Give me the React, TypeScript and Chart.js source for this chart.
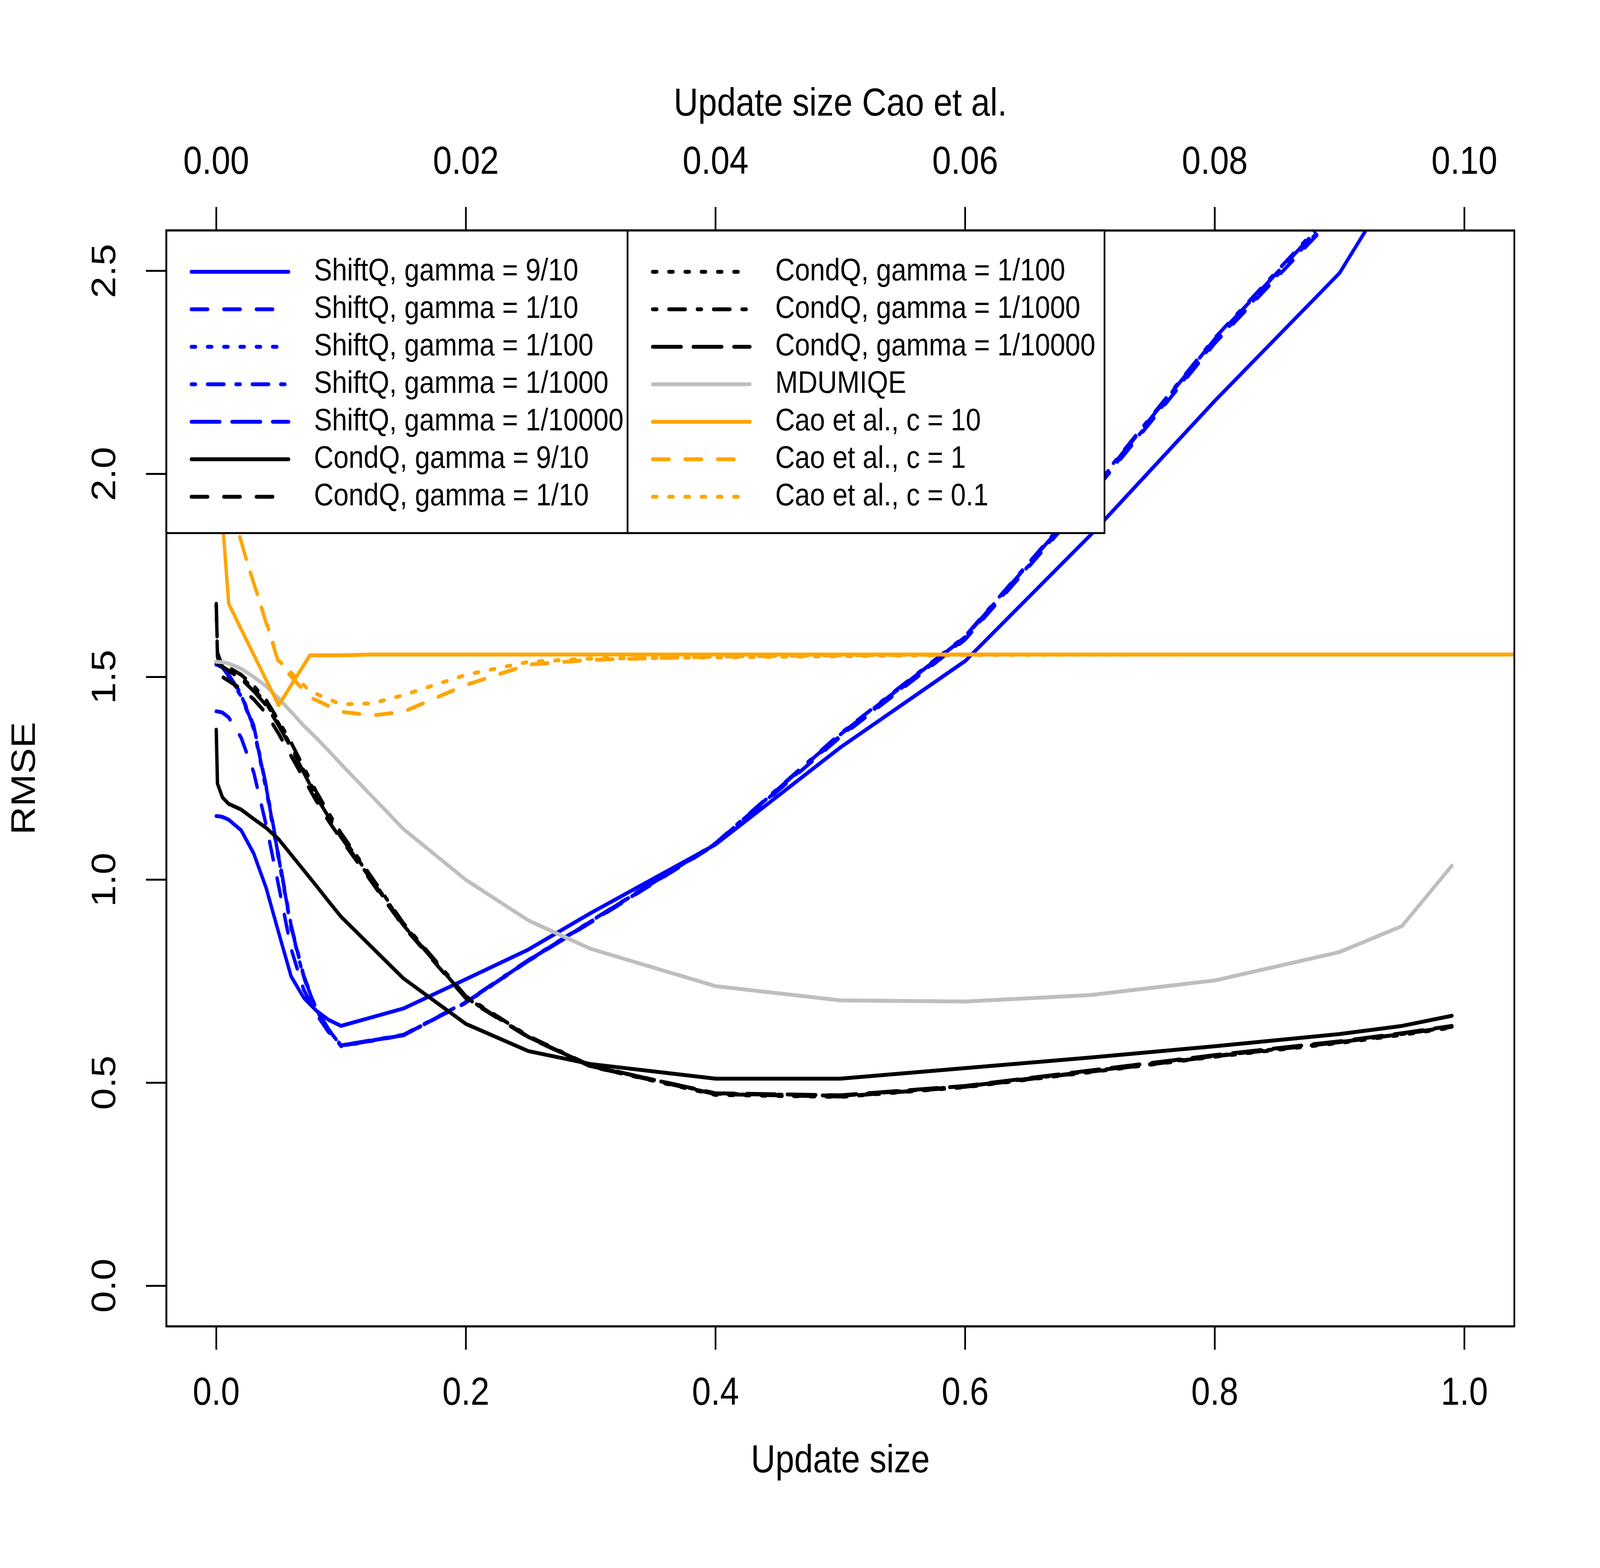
import { useEffect, useRef } from 'react';
import { Chart, registerables } from 'chart.js';

Chart.register(...registerables);

const FONT = '"Liberation Sans", Arial, Helvetica, sans-serif';

// update sizes used for ShiftQ / CondQ / MDUMIQE (bottom axis)
const UPDATE_SIZE = [0, 0.001, 0.005, 0.01, 0.02, 0.03, 0.04, 0.05, 0.06, 0.07, 0.08, 0.09, 0.1, 0.15, 0.2, 0.25, 0.3, 0.4, 0.5, 0.6, 0.7, 0.8, 0.9, 0.95, 0.99];
// update sizes used for Cao et al. (top axis)
const CAO_UPDATE_SIZE = [0, 0.001, 0.0025, 0.005, 0.0075, 0.01, 0.0125, 0.015, 0.02, 0.025, 0.03, 0.04, 0.05, 0.06, 0.08, 0.1, 0.12];

const SHIFTQ_9_10 = [1.157, 1.157, 1.155, 1.148, 1.122, 1.065, 0.98, 0.87, 0.762, 0.71, 0.678, 0.655, 0.64, 0.683, 0.755, 0.828, 0.918, 1.087, 1.326, 1.539, 1.848, 2.18, 2.495, 2.745, 2.95];
const SHIFTQ_1_10 = [1.415, 1.415, 1.412, 1.4, 1.35, 1.265, 1.135, 0.985, 0.83, 0.73, 0.67, 0.625, 0.592, 0.617, 0.698, 0.8, 0.895, 1.087, 1.352, 1.592, 1.944, 2.322, 2.648, 2.815, 2.955];
const SHIFTQ_1_100 = [1.53, 1.53, 1.522, 1.5, 1.452, 1.372, 1.222, 1.05, 0.88, 0.76, 0.68, 0.63, 0.59, 0.617, 0.697, 0.8, 0.896, 1.088, 1.355, 1.595, 1.947, 2.326, 2.653, 2.82, 2.96];
const SHIFTQ_1_1000 = [1.53, 1.53, 1.524, 1.505, 1.458, 1.38, 1.232, 1.06, 0.888, 0.765, 0.683, 0.632, 0.592, 0.618, 0.699, 0.802, 0.898, 1.09, 1.36, 1.6, 1.955, 2.335, 2.665, 2.83, 2.97];
const SHIFTQ_1_10000 = [1.53, 1.53, 1.523, 1.502, 1.455, 1.376, 1.228, 1.055, 0.884, 0.762, 0.681, 0.631, 0.591, 0.617, 0.698, 0.801, 0.897, 1.089, 1.358, 1.598, 1.952, 2.332, 2.66, 2.825, 2.965];

const CONDQ_9_10 = [1.37, 1.237, 1.203, 1.187, 1.173, 1.15, 1.128, 1.1, 1.062, 1.024, 0.986, 0.947, 0.909, 0.757, 0.645, 0.578, 0.546, 0.51, 0.51, 0.536, 0.562, 0.59, 0.62, 0.64, 0.665];
const CONDQ_1_10 = [1.68, 1.55, 1.5, 1.49, 1.47, 1.445, 1.41, 1.36, 1.305, 1.25, 1.195, 1.145, 1.1, 0.885, 0.708, 0.612, 0.54, 0.472, 0.466, 0.49, 0.527, 0.565, 0.6, 0.62, 0.638];
const CONDQ_1_100 = [1.535, 1.533, 1.528, 1.52, 1.5, 1.47, 1.435, 1.385, 1.33, 1.27, 1.21, 1.16, 1.11, 0.89, 0.71, 0.613, 0.54, 0.47, 0.465, 0.489, 0.526, 0.564, 0.598, 0.618, 0.636];
const CONDQ_1_1000 = [1.535, 1.534, 1.53, 1.523, 1.505, 1.478, 1.443, 1.392, 1.338, 1.278, 1.218, 1.165, 1.115, 0.893, 0.713, 0.615, 0.542, 0.473, 0.468, 0.491, 0.528, 0.566, 0.6, 0.62, 0.638];
const CONDQ_1_10000 = [1.68, 1.56, 1.525, 1.515, 1.495, 1.465, 1.43, 1.38, 1.325, 1.265, 1.205, 1.155, 1.105, 0.888, 0.71, 0.613, 0.541, 0.474, 0.469, 0.492, 0.53, 0.568, 0.602, 0.622, 0.64];

const MDUMIQE = [1.537, 1.537, 1.536, 1.533, 1.52, 1.5, 1.477, 1.447, 1.414, 1.38, 1.35, 1.318, 1.285, 1.125, 1.0, 0.9, 0.83, 0.738, 0.703, 0.7, 0.716, 0.752, 0.822, 0.886, 1.035];

const CAO_C10 = [2.09, 1.68, 1.586, 1.43, 1.553, 1.553, 1.555, 1.555, 1.555, 1.555, 1.555, 1.555, 1.555, 1.555, 1.555, 1.555, 1.555];
const CAO_C1 = [2.3, 1.94, 1.78, 1.535, 1.45, 1.414, 1.405, 1.414, 1.48, 1.53, 1.542, 1.55, 1.553, 1.555, 1.555, 1.555, 1.555];
const CAO_C01 = [2.3, 1.94, 1.78, 1.54, 1.465, 1.432, 1.435, 1.455, 1.505, 1.537, 1.545, 1.548, 1.551, 1.554, 1.555, 1.555, 1.555];

const X_TICKS = [0, 0.2, 0.4, 0.6, 0.8, 1.0];
const X_TOP_TICKS = [0, 0.02, 0.04, 0.06, 0.08, 0.1];
const Y_TICKS = [0, 0.5, 1, 1.5, 2, 2.5];

const BLUE = '#0000FF';
const BLACK = '#000000';
const GRAY = '#BEBEBE';
const ORANGE = '#FFA500';

// R line types at lwd = 2
const DASH: Record<string, number[]> = {
  solid: [],
  dashed: [48, 48],
  dotted: [12, 36],
  dotdash: [12, 36, 48, 36],
  longdash: [84, 36],
};

const SERIES = [
  { label: 'ShiftQ, gamma = 9/10', color: BLUE, lty: 'solid', values: SHIFTQ_9_10, cao: false },
  { label: 'ShiftQ, gamma = 1/10', color: BLUE, lty: 'dashed', values: SHIFTQ_1_10, cao: false },
  { label: 'ShiftQ, gamma = 1/100', color: BLUE, lty: 'dotted', values: SHIFTQ_1_100, cao: false },
  { label: 'ShiftQ, gamma = 1/1000', color: BLUE, lty: 'dotdash', values: SHIFTQ_1_1000, cao: false },
  { label: 'ShiftQ, gamma = 1/10000', color: BLUE, lty: 'longdash', values: SHIFTQ_1_10000, cao: false },
  { label: 'CondQ, gamma = 9/10', color: BLACK, lty: 'solid', values: CONDQ_9_10, cao: false },
  { label: 'CondQ, gamma = 1/10', color: BLACK, lty: 'dashed', values: CONDQ_1_10, cao: false },
  { label: 'CondQ, gamma = 1/100', color: BLACK, lty: 'dotted', values: CONDQ_1_100, cao: false },
  { label: 'CondQ, gamma = 1/1000', color: BLACK, lty: 'dotdash', values: CONDQ_1_1000, cao: false },
  { label: 'CondQ, gamma = 1/10000', color: BLACK, lty: 'longdash', values: CONDQ_1_10000, cao: false },
  { label: 'MDUMIQE', color: GRAY, lty: 'solid', values: MDUMIQE, cao: false },
  { label: 'Cao et al., c = 10', color: ORANGE, lty: 'solid', values: CAO_C10, cao: true },
  { label: 'Cao et al., c = 1', color: ORANGE, lty: 'dashed', values: CAO_C1, cao: true },
  { label: 'Cao et al., c = 0.1', color: ORANGE, lty: 'dotted', values: CAO_C01, cao: true },
];

const W = 4724;
const H = 4015;

// R style legend (two boxed columns, opaque), plot box and rotated y labels
const boxPlugin = {
  id: 'rBox',
  afterDatasetsDraw(chart: any) {
    const { ctx, chartArea } = chart;
    const { left, top, right, bottom } = chartArea;
    const datasets = chart.data.datasets;
    const columns = [
      { x: left, w: 1362, items: datasets.slice(0, 7) },
      { x: left + 1362, w: 1408, items: datasets.slice(7) },
    ];
    const boxH = 775;
    ctx.save();
    columns.forEach((col) => {
      ctx.setLineDash([]);
      ctx.fillStyle = '#ffffff';
      ctx.fillRect(col.x, top, col.w, boxH);
      ctx.lineWidth = 5;
      ctx.strokeStyle = '#000000';
      ctx.strokeRect(col.x, top, col.w, boxH);
      col.items.forEach((ds: any, i: number) => {
        const y = top + 106 + 96 * i;
        ctx.beginPath();
        ctx.setLineDash(ds.borderDash);
        ctx.lineCap = 'round';
        ctx.strokeStyle = ds.borderColor;
        ctx.lineWidth = ds.borderWidth;
        ctx.moveTo(col.x + 74, y);
        ctx.lineTo(col.x + 361, y);
        ctx.stroke();
        ctx.setLineDash([]);
        ctx.fillStyle = '#000000';
        ctx.font = `80px ${FONT}`;
        ctx.textAlign = 'left';
        ctx.textBaseline = 'middle';
        ctx.fillText(ds.label, col.x + 436, y);
      });
    });
    ctx.setLineDash([]);
    ctx.lineWidth = 5;
    ctx.strokeStyle = '#000000';
    ctx.strokeRect(left, top, right - left, bottom - top);
    ctx.restore();
  },
  afterDraw(chart: any) {
    const { ctx, chartArea } = chart;
    const yScale = chart.scales.y;
    ctx.save();
    ctx.fillStyle = '#000000';
    ctx.font = `100px ${FONT}`;
    ctx.textAlign = 'center';
    ctx.textBaseline = 'middle';
    Y_TICKS.forEach((v) => {
      const py = yScale.getPixelForValue(v);
      ctx.save();
      ctx.translate(chartArea.left - 179, py);
      ctx.rotate(-Math.PI / 2);
      ctx.fillText(v.toFixed(1), 0, 0);
      ctx.restore();
    });
    ctx.restore();
  },
};

export default function App() {
  const canvasRef = useRef<HTMLCanvasElement>(null);
  const chartRef = useRef<Chart | null>(null);

  useEffect(() => {
    if (!canvasRef.current) return;
    const ctx = canvasRef.current.getContext('2d');
    if (!ctx) return;
    if (chartRef.current) chartRef.current.destroy();

    const axisGrid = {
      display: true,
      drawOnChartArea: false,
      drawTicks: true,
      tickLength: 60,
      tickWidth: 5,
      tickColor: '#000000',
    };
    const axisBorder = { display: true, color: '#000000', width: 5 };
    const tickFont = { family: FONT, size: 100 };

    chartRef.current = new Chart(ctx, {
      type: 'line',
      data: {
        datasets: SERIES.map((s, i) => {
          const xs = s.cao ? CAO_UPDATE_SIZE : UPDATE_SIZE;
          return {
            label: s.label,
            data: s.values.map((v, j) => ({ x: xs[j], y: v })),
            xAxisID: s.cao ? 'x2' : 'x',
            yAxisID: 'y',
            borderColor: s.color,
            backgroundColor: s.color,
            borderWidth: 10,
            borderDash: DASH[s.lty],
            borderCapStyle: 'round',
            borderJoinStyle: 'round',
            pointRadius: 0,
            pointHoverRadius: 0,
            tension: 0,
            fill: false,
            clip: 0,
            order: SERIES.length - i,
          };
        }) as any,
      },
      options: {
        responsive: false,
        animation: false,
        devicePixelRatio: 1,
        events: [],
        layout: { padding: { top: 0, left: 0, right: 253, bottom: 0 } },
        plugins: {
          legend: { display: false },
          tooltip: { enabled: false },
        },
        scales: {
          x: {
            type: 'linear',
            position: 'bottom',
            min: -0.04,
            max: 1.04,
            afterBuildTicks: (scale: any) => {
              scale.ticks = X_TICKS.map((v) => ({ value: v }));
            },
            afterFit: (scale: any) => {
              scale.height = 619;
            },
            ticks: {
              color: '#000000',
              font: tickFont,
              padding: 53,
              maxRotation: 0,
              minRotation: 0,
              callback: (v: any) => Number(v).toFixed(1),
            },
            grid: axisGrid,
            border: axisBorder,
            title: {
              display: true,
              text: 'Update size',
              color: '#000000',
              font: { family: FONT, size: 100 },
              padding: { top: 0, bottom: 213 },
            },
          },
          x2: {
            type: 'linear',
            position: 'top',
            min: -0.004,
            max: 0.104,
            afterBuildTicks: (scale: any) => {
              scale.ticks = X_TOP_TICKS.map((v) => ({ value: v }));
            },
            afterFit: (scale: any) => {
              scale.height = 590;
            },
            ticks: {
              color: '#000000',
              font: tickFont,
              padding: 53,
              maxRotation: 0,
              minRotation: 0,
              callback: (v: any) => Number(v).toFixed(2),
            },
            grid: axisGrid,
            border: axisBorder,
            title: {
              display: true,
              text: 'Update size Cao et al.',
              color: '#000000',
              font: { family: FONT, size: 100 },
              padding: { top: 208, bottom: 0 },
            },
          },
          y: {
            type: 'linear',
            position: 'left',
            min: -0.1,
            max: 2.6,
            afterBuildTicks: (scale: any) => {
              scale.ticks = Y_TICKS.map((v) => ({ value: v }));
            },
            afterFit: (scale: any) => {
              scale.width = 491;
            },
            ticks: { display: false },
            grid: axisGrid,
            border: axisBorder,
            title: {
              display: true,
              text: 'RMSE',
              color: '#000000',
              font: { family: FONT, size: 100 },
              padding: { top: 15, bottom: 0 },
            },
          },
        },
      } as any,
      plugins: [boxPlugin],
    });

    return () => {
      chartRef.current?.destroy();
      chartRef.current = null;
    };
  }, []);

  // the canvas is drawn at 4724x4015 and shown stretched to the viewport
  return (
    <div
      style={{
        position: 'absolute',
        left: 0,
        top: 0,
        width: '100vw',
        height: '100vh',
        overflow: 'hidden',
        background: '#ffffff',
      }}
    >
      <canvas
        ref={canvasRef}
        width={W}
        height={H}
        style={{ display: 'block', width: '100vw', height: '100vh' }}
      />
    </div>
  );
}
